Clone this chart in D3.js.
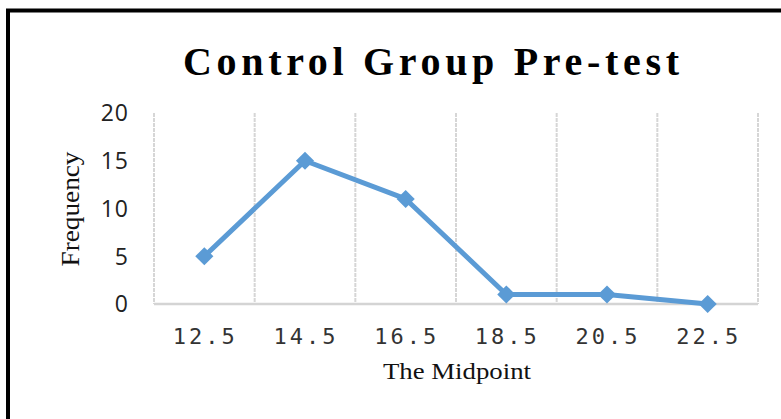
<!DOCTYPE html>
<html>
<head>
<meta charset="utf-8">
<title>Control Group Pre-test</title>
<script src="https://d3js.org/d3.v7.min.js"></script>
<style>
  body { margin: 0; background: #fff; }
</style>
</head>
<body>
<div id="chart"></div>
<script>
// chart values
const midpoints = ["12.5", "14.5", "16.5", "18.5", "20.5", "22.5"];
const frequency = [5, 15, 11, 1, 1, 0];
const yTicks = [0, 5, 10, 15, 20];

const W = 781, H = 419;
const svg = d3.select("#chart").append("svg")
    .attr("width", W)
    .attr("height", H);

// frame of the chart box (cut at right and bottom)
svg.append("path")
    .attr("d", "M8,430 L8,10.5 L800,10.5")
    .attr("fill", "none")
    .attr("stroke", "#000")
    .attr("stroke-width", 4);

const x = d3.scaleBand().domain(midpoints).range([154, 758]).padding(0);
const y = d3.scaleLinear().domain([0, 20]).range([304, 113]);

// vertical gridlines at band edges
const edges = midpoints.map(d => x(d)).concat([x.range()[1]]);
svg.append("g").selectAll("line")
    .data(edges)
    .join("line")
    .attr("x1", d => d).attr("x2", d => d)
    .attr("y1", y(20)).attr("y2", y(0))
    .attr("stroke", "#d6d6d6")
    .attr("stroke-width", 2)
    .attr("stroke-dasharray", "4,1");

// bottom axis line
svg.append("line")
    .attr("x1", 154).attr("x2", 758)
    .attr("y1", y(0)).attr("y2", y(0))
    .attr("stroke", "#d4d4d4")
    .attr("stroke-width", 2.5);

// y tick labels
svg.append("g").selectAll("text")
    .data(yTicks)
    .join("text")
    .attr("x", 129)
    .attr("y", d => y(d))
    .attr("dy", "0.36em")
    .attr("text-anchor", "end")
    .attr("font-family", "Open Sans, sans-serif")
    .attr("font-size", 23)
    .attr("letter-spacing", 1)
    .attr("fill", "#222")
    .text(d => d);

// x tick labels
svg.append("g").selectAll("text")
    .data(midpoints)
    .join("text")
    .attr("x", d => x(d) + x.bandwidth() / 2 + 1)
    .attr("y", 344)
    .attr("text-anchor", "middle")
    .attr("font-family", "DejaVu Sans Mono, monospace")
    .attr("font-size", 22)
    .attr("letter-spacing", 3)
    .attr("fill", "#333")
    .text(d => d);

// line
const line = d3.line()
    .x((d, i) => x(midpoints[i]) + x.bandwidth() / 2)
    .y(d => y(d));

svg.append("path")
    .datum(frequency)
    .attr("d", line)
    .attr("fill", "none")
    .attr("stroke", "#5b9bd5")
    .attr("stroke-width", 5)
    .attr("stroke-linejoin", "round");

// diamond markers
const diamond = d3.symbol().type(d3.symbolDiamond2).size(210);
svg.append("g").selectAll("path")
    .data(frequency)
    .join("path")
    .attr("transform", (d, i) => `translate(${x(midpoints[i]) + x.bandwidth() / 2},${y(d)})`)
    .attr("d", diamond)
    .attr("fill", "#5b9bd5");

// title
svg.append("text")
    .attr("x", 431)
    .attr("y", 75)
    .attr("text-anchor", "middle")
    .attr("font-family", "Liberation Serif, serif")
    .attr("font-weight", "bold")
    .attr("font-size", 40)
    .attr("textLength", 496)
    .attr("lengthAdjust", "spacing")
    .attr("fill", "#000")
    .text("Control Group Pre-test");

// axis titles
svg.append("text")
    .attr("transform", "translate(79,209) rotate(-90)")
    .attr("text-anchor", "middle")
    .attr("font-family", "Liberation Serif, serif")
    .attr("font-size", 25)
    .attr("textLength", 115)
    .attr("lengthAdjust", "spacingAndGlyphs")
    .attr("fill", "#111")
    .text("Frequency");

svg.append("text")
    .attr("x", 457)
    .attr("y", 379)
    .attr("text-anchor", "middle")
    .attr("font-family", "Liberation Serif, serif")
    .attr("font-size", 23)
    .attr("textLength", 148)
    .attr("lengthAdjust", "spacingAndGlyphs")
    .attr("fill", "#111")
    .text("The Midpoint");
</script>
</body>
</html>
